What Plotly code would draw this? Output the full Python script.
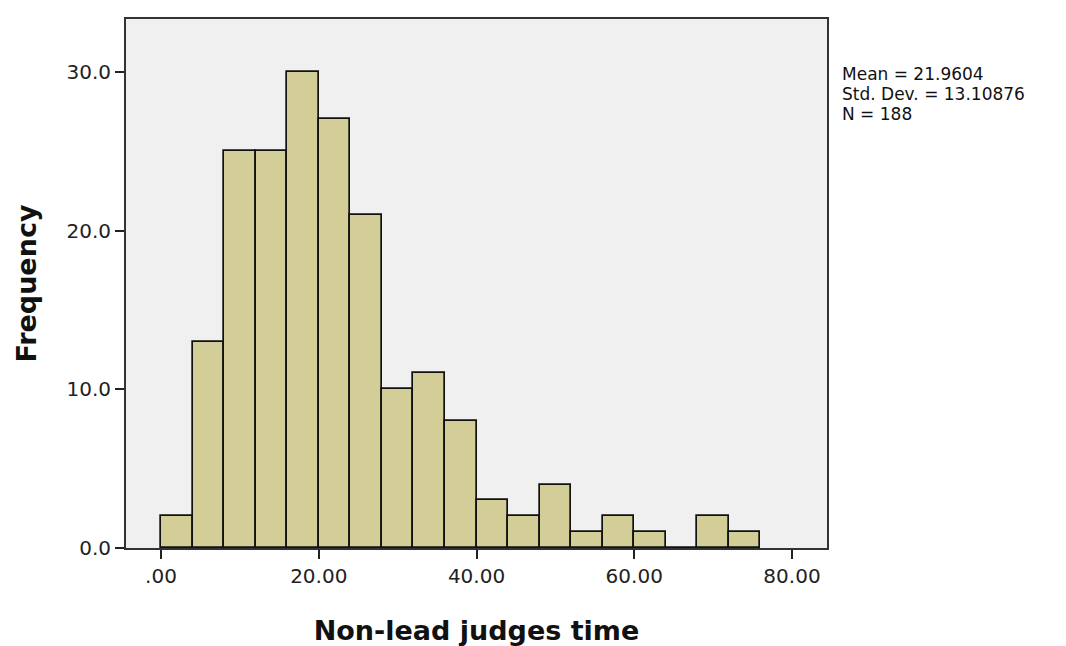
import plotly.graph_objects as go

# Data: histogram bins (width 4, starting at 0) and frequencies
bin_starts = [0, 4, 8, 12, 16, 20, 24, 28, 32, 36, 40, 44, 48, 52, 56, 60, 64, 68, 72]
frequencies = [2, 13, 25, 25, 30, 27, 21, 10, 11, 8, 3, 2, 4, 1, 2, 1, 0, 2, 1]
bin_width = 4
x_tick_vals = [0, 20, 40, 60, 80]
x_tick_text = [".00", "20.00", "40.00", "60.00", "80.00"]
y_tick_vals = [0, 10, 20, 30]
y_tick_text = ["0.0", "10.0", "20.0", "30.0"]
stats_lines = ["Mean = 21.9604", "Std. Dev. = 13.10876", "N = 188"]

centers = [s + bin_width / 2 for s in bin_starts]

fig = go.Figure()
fig.add_trace(go.Bar(
    x=centers, y=frequencies, width=[bin_width] * len(centers),
    marker=dict(color="#d3ce97", line=dict(color="#111111", width=1.7)),
    showlegend=False, hoverinfo="x+y",
))

tick_font = dict(family="DejaVu Sans", size=20, color="#222222")
title_font = dict(family="DejaVu Sans", size=27, color="#111111")

stat_y = [0.896, 0.858, 0.820]
annotations = [
    dict(xref="paper", yref="paper", x=1.019, y=yy, xanchor="left", yanchor="middle",
         text=t, showarrow=False, align="left",
         font=dict(family="DejaVu Sans", size=17, color="#111111"))
    for t, yy in zip(stats_lines, stat_y)
]

fig.update_layout(
    width=1066, height=646,
    margin=dict(l=118, r=247, t=9, b=106),
    paper_bgcolor="white",
    plot_bgcolor="#f0f0f0",
    bargap=0,
    xaxis=dict(
        range=[-4.44, 84.44], tickvals=x_tick_vals, ticktext=x_tick_text,
        ticks="outside", ticklen=9, tickwidth=2, tickcolor="#222222",
        showline=True, linecolor="#333333", linewidth=2, mirror=True,
        showgrid=False, zeroline=False, tickfont=tick_font,
        title=dict(text="<b>Non-lead judges time</b>", font=title_font, standoff=34),
    ),
    yaxis=dict(
        range=[0, 33.33], tickvals=y_tick_vals, ticktext=y_tick_text,
        ticks="outside", ticklen=9, tickwidth=2, tickcolor="#222222",
        showline=True, linecolor="#333333", linewidth=2, mirror=True,
        showgrid=False, zeroline=False, tickfont=tick_font,
        title=dict(text="<b>Frequency</b>", font=title_font, standoff=22),
    ),
    annotations=annotations,
)

fig.write_html("out.html")
